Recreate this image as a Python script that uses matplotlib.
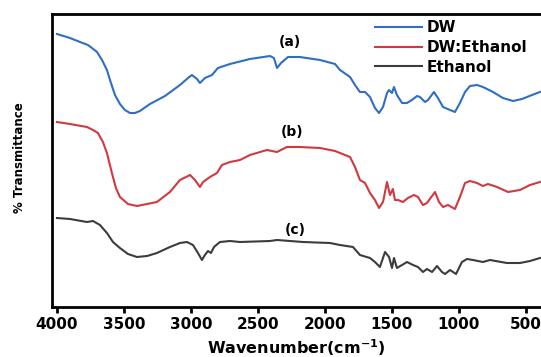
import matplotlib
matplotlib.use("Agg")
import matplotlib.pyplot as plt
import numpy as np

# ---- data (wavenumber cm^-1, offset transmittance in arbitrary units) ----
dw_wn = [4000, 3903, 3828, 3769, 3739, 3701, 3664, 3627, 3597, 3567, 3530, 3493, 3455, 3418, 3381,
         3306, 3194, 3082, 3022, 2993, 2955, 2933, 2896, 2843, 2799, 2709, 2560, 2410, 2381, 2358,
         2328, 2276, 2187, 2037, 1925, 1888, 1813, 1776, 1739, 1701, 1664, 1627, 1597, 1567, 1537,
         1522, 1500, 1485, 1463, 1425, 1388, 1351, 1313, 1291, 1254, 1231, 1187, 1157, 1119, 1067,
         1030, 993, 955, 918, 866, 821, 746, 672, 597, 530, 455, 396]
dw_t = [273, 269, 265, 262, 259, 255, 247, 237, 224, 212, 203, 197, 194, 194, 196,
        203, 211, 222, 229, 232, 228, 224, 229, 232, 239, 243, 248, 251, 249, 239,
        244, 250, 250, 247, 243, 237, 230, 222, 215, 215, 210, 199, 194, 200, 214,
        217, 214, 220, 212, 204, 204, 207, 211, 210, 205, 207, 215, 209, 200, 197,
        195, 204, 215, 221, 222, 220, 215, 209, 206, 208, 212, 215]

mix_wn = [4000, 3903, 3776, 3731, 3694, 3657, 3627, 3590, 3560, 3530, 3470, 3403, 3328, 3254, 3157,
          3082, 3007, 2970, 2933, 2910, 2858, 2806, 2769, 2709, 2634, 2560, 2433, 2358, 2284, 2187,
          2037, 1925, 1888, 1813, 1776, 1739, 1701, 1664, 1627, 1597, 1567, 1537, 1515, 1493, 1478,
          1455, 1418, 1381, 1336, 1306, 1269, 1239, 1179, 1149, 1119, 1082, 1030, 993, 955, 918,
          866, 821, 784, 716, 634, 545, 470, 396]
mix_t = [185, 183, 180, 177, 174, 165, 154, 134, 119, 110, 103, 101, 103, 105, 115,
         127, 132, 127, 120, 125, 130, 134, 142, 145, 147, 152, 157, 155, 160, 160,
         159, 156, 154, 150, 140, 127, 124, 114, 107, 99, 105, 125, 112, 118, 107,
         107, 105, 109, 112, 110, 102, 104, 115, 105, 100, 102, 98, 110, 124, 126,
         124, 121, 123, 120, 115, 117, 122, 125]

eth_wn = [4000, 3903, 3776, 3731, 3679, 3627, 3582, 3530, 3470, 3403, 3328, 3254, 3157, 3082, 3030,
          2985, 2948, 2918, 2896, 2873, 2851, 2828, 2784, 2709, 2634, 2410, 2358, 2164, 1963, 1888,
          1791, 1739, 1664, 1627, 1590, 1552, 1522, 1500, 1485, 1463, 1425, 1388, 1343, 1306, 1269,
          1239, 1201, 1164, 1127, 1104, 1067, 1022, 978, 940, 896, 821, 769, 642, 545, 470, 396]
eth_t = [89, 88, 85, 86, 82, 74, 65, 59, 53, 50, 51, 54, 60, 64, 65,
         62, 54, 47, 52, 56, 54, 60, 65, 66, 65, 66, 67, 65, 64, 62,
         60, 52, 49, 45, 40, 55, 50, 39, 49, 39, 42, 45, 42, 40, 35,
         38, 35, 41, 35, 33, 37, 33, 45, 48, 47, 45, 47, 44, 44, 46, 49]

series_names = ["DW", "DW:Ethanol", "Ethanol"]
panel_tags = ["(a)", "(b)", "(c)"]
tag_wn = [2261, 2246, 2224]
tag_t = [265, 175, 77]
x_ticks = [4000, 3500, 3000, 2500, 2000, 1500, 1000, 500]

colors = ["#2f6ec4", "#d2383f", "#3c3c3c"]

plt.rcParams['font.family'] = ['DejaVu Sans']

fig = plt.figure(figsize=(5.41, 3.57), dpi=100)
ax = fig.add_axes([52/541, 50/357, 489/541, 293/357])

for wn, t, c, name in zip([dw_wn, mix_wn, eth_wn], [dw_t, mix_t, eth_t], colors, series_names):
    ax.plot(wn, t, color=c, lw=1.5, label=name, solid_joinstyle='round')

for tag, xw, yt in zip(panel_tags, tag_wn, tag_t):
    ax.text(xw, yt, tag, ha='center', va='center', fontsize=10, fontweight='bold')

ax.set_xlim(4037, 388)
ax.set_ylim(0, 293)
ax.set_xticks(x_ticks)
ax.set_xticklabels([str(v) for v in x_ticks], fontsize=11, fontweight='bold')
ax.set_yticks([])
ax.tick_params(axis='x', direction='out', length=4, width=2, pad=3)

for s in ['left', 'bottom', 'top']:
    ax.spines[s].set_linewidth(2.0)
ax.spines['right'].set_visible(False)

ax.set_xlabel("Wavenumber(cm$^{\\mathbf{-1}}$)", fontsize=11.5, fontweight='bold', labelpad=4)
fig.text(20/541, 1 - 158/357, "% Transmittance", rotation=90, ha='center', va='center',
         fontsize=8.5, fontweight='bold')

leg = ax.legend(loc='upper left', bbox_to_anchor=(375/541, 1 - 20/357),
                bbox_transform=fig.transFigure, frameon=False,
                handlelength=3.1, handletextpad=0.3, labelspacing=0.32,
                borderpad=0, borderaxespad=0, prop={'weight': 'bold', 'size': 11})
for line in leg.get_lines():
    line.set_linewidth(1.5)

fig.savefig("out.png", dpi=100)
